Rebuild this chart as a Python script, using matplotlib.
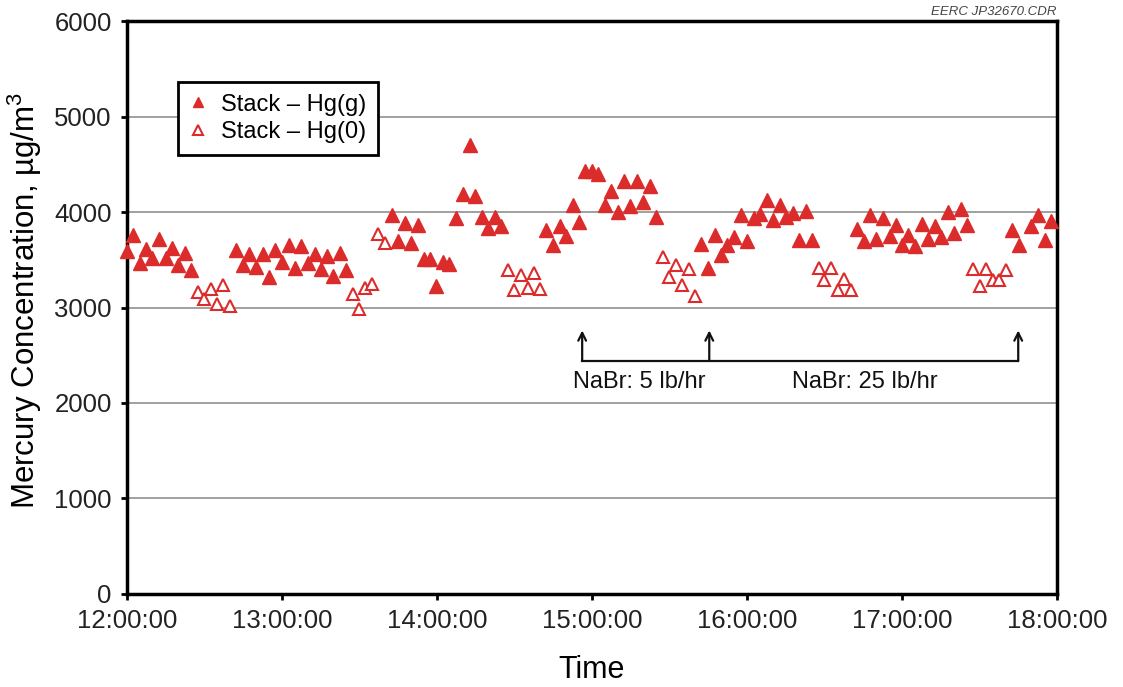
import numpy as np
import matplotlib
matplotlib.use("Agg")
import matplotlib.pyplot as plt

plt.rcParams['font.family'] = ['Liberation Sans', 'DejaVu Sans']
plt.rcParams['mathtext.fontset'] = 'custom'
plt.rcParams['mathtext.rm'] = 'Liberation Sans'

# minutes after 12:00 and concentration (ug/m3)
hgg_min = [0, 2.2, 5.0, 7.3, 9.8, 12.4, 14.9, 17.5, 19.8, 22.4, 24.7,
           42.2, 44.8, 47.4, 49.9, 52.5, 54.8, 57.4, 60.0, 62.6, 64.9, 67.5, 70.0,
           72.7, 75.0, 77.6, 79.9, 82.4, 84.8,
           102.4, 104.9, 107.5, 109.9, 112.5, 114.8, 117.2, 119.5, 122.3, 124.8,
           127.4, 130.0, 132.6, 134.9, 137.3, 139.9, 142.5, 144.8,
           162.3, 164.9, 167.5, 169.8, 172.5, 175.0, 177.4, 180.0, 182.5, 185.1,
           187.5, 190.1, 192.5, 194.9, 197.5, 199.9, 202.3, 204.8,
           222.3, 224.9, 227.5, 229.9, 232.3, 234.9, 237.6, 240.0, 242.6, 245.2,
           247.6, 250.2, 252.6, 255.1, 257.7, 260.1, 262.7, 265.2,
           282.7, 285.3, 287.6, 290.1, 292.5, 295.2, 297.6, 300.2, 302.5, 305.2,
           307.7, 310.2, 312.8, 315.2, 317.7, 320.2, 322.8, 325.1,
           342.6, 345.2, 350.1, 352.8, 355.3, 357.7]
hgg_val = [3590, 3760, 3470, 3610, 3520, 3720, 3520, 3620, 3450, 3570, 3390,
           3600, 3440, 3560, 3420, 3560, 3320, 3600, 3480, 3650, 3410, 3640, 3470,
           3560, 3400, 3540, 3330, 3570, 3390,
           3970, 3700, 3880, 3680, 3860, 3510, 3510, 3230, 3480, 3460,
           3940, 4190, 4700, 4170, 3950, 3830, 3950, 3850,
           3815, 3650, 3850, 3745, 4075, 3900, 4430, 4430, 4400, 4075,
           4220, 4005, 4320, 4065, 4320, 4110, 4275, 3950,
           3660, 3415, 3755, 3555, 3655, 3740, 3965, 3693, 3937, 3979,
           4128, 3920, 4076, 3948, 3990, 3711, 4006, 3711,
           3822, 3693, 3972, 3718, 3937, 3745, 3867, 3658, 3763, 3648,
           3875, 3718, 3850, 3739, 4000, 3780, 4031, 3860,
           3815, 3658, 3850, 3972, 3711, 3902]

hg0_min = [27.3, 29.9, 32.5, 34.7, 37.3, 39.9,
           87.4, 89.7, 92.3, 94.8, 97.2, 99.8,
           147.4, 150.0, 152.5, 155.1, 157.4, 160.0,
           207.4, 209.8, 212.4, 215.0, 217.4, 219.9,
           267.7, 270.0, 272.6, 275.2, 277.5, 280.1,
           327.6, 330.2, 332.7, 335.3, 337.7, 340.3]
hg0_val = [3160, 3090, 3195, 3040, 3240, 3020,
           3145, 2985, 3205, 3250, 3770, 3680,
           3390, 3180, 3345, 3200, 3365, 3190,
           3530, 3320, 3440, 3235, 3405, 3120,
           3415, 3285, 3415, 3188, 3303, 3188,
           3404, 3230, 3404, 3293, 3293, 3390]

tick_min = [0, 60, 120, 180, 240, 300, 360]
tick_lab = ['12:00:00', '13:00:00', '14:00:00', '15:00:00',
            '16:00:00', '17:00:00', '18:00:00']

# NaBr injection marks (minutes) and labels
nabr_min = [176.2, 225.4, 345.0]
nabr_lab = ['NaBr: 5 lb/hr', 'NaBr: 25 lb/hr']
nabr_lab_min = [172.5, 257.5]

red = '#dc2b2b'

fig = plt.figure(figsize=(11.23, 6.87), dpi=100)
ax = fig.add_axes([0.1131, 0.1354, 0.8281, 0.834])

ax.plot(hgg_min, hgg_val, linestyle='none', marker='^', markersize=9.5,
        color=red, markeredgecolor=red, clip_on=False, zorder=3,
        label='Stack \u2013 Hg(g)')
ax.plot(hg0_min, hg0_val, linestyle='none', marker='^', markersize=9,
        markerfacecolor='white', markeredgecolor=red, markeredgewidth=1.5,
        clip_on=False, zorder=3, label='Stack \u2013 Hg(0)')

ax.set_xlim(0, 360)
ax.set_ylim(0, 6000)
ax.set_xticks(tick_min)
ax.set_xticklabels(tick_lab)
ax.set_yticks(np.arange(0, 7000, 1000))
ax.yaxis.grid(True, color='#999999', linewidth=1.3)
ax.set_axisbelow(True)

for s in ax.spines.values():
    s.set_linewidth(2.5)
ax.tick_params(direction='out', length=4, width=2, labelsize=18.5,
               labelcolor='#222222', pad=7)

ax.set_ylabel('Mercury Concentration, \u00b5g/m$^\\mathregular{3}$', fontsize=22.5)
ax.yaxis.set_label_coords(-0.089, 0.513)
ax.set_xlabel('Time', fontsize=22, va='top')
ax.xaxis.set_label_coords(0.5, -0.107)

# arrows and bracket line
y_line = 2440
y_tip = 2760
ax.plot([nabr_min[0], nabr_min[-1]], [y_line, y_line], color='#111111', lw=1.6)
for m in nabr_min:
    ax.annotate('', xy=(m, y_tip), xytext=(m, y_line),
                arrowprops=dict(arrowstyle='->', color='#111111', lw=1.6,
                                shrinkA=0, shrinkB=0, mutation_scale=14))
for m, t in zip(nabr_lab_min, nabr_lab):
    ax.text(m, 2220, t, fontsize=17, ha='left', va='center', color='#111111')

leg = ax.legend(loc='upper left', bbox_to_anchor=(0.055, 0.894), fontsize=17,
                fancybox=False, framealpha=1, edgecolor='black',
                handlelength=0.7, handletextpad=0.6, borderpad=0.5,
                labelspacing=0.25, markerscale=0.75, borderaxespad=0)
leg.get_frame().set_linewidth(2)

fig.text(0.941, 0.983, 'EERC JP32670.CDR', fontsize=9.5, style='italic',
         color='#444444', ha='right', va='center')

fig.savefig('out.png', dpi=100)
